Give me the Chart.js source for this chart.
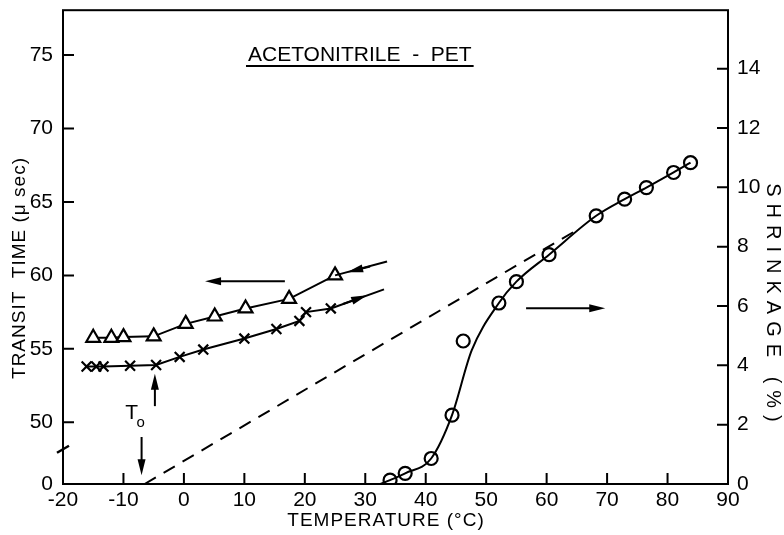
<!DOCTYPE html>
<html>
<head>
<meta charset="utf-8">
<title>Acetonitrile - PET</title>
<script src="https://cdn.jsdelivr.net/npm/chart.js@4.4.1/dist/chart.umd.min.js"></script>
<style>
  html, body { margin: 0; padding: 0; background: #fff; }
  #wrap { width: 784px; height: 535px; position: relative; }
</style>
</head>
<body>
<div id="wrap"><canvas id="chart"></canvas></div>
<script>
// ---- values ----
const xTicks = [-20, -10, 0, 10, 20, 30, 40, 50, 60, 70, 80, 90];
const leftTicks = [50, 55, 60, 65, 70, 75];
const leftBreak = 45.8;          // bottom of the broken left axis, labelled "0"
const rightTicks = [0, 2, 4, 6, 8, 10, 12, 14];

// transit time, cooling run (triangles)
const coolTemp = [-15, -12, -10, -5, 0.3, 5.1, 10.2, 17.4, 25];
const coolTime = [55.75, 55.75, 55.8, 55.85, 56.7, 57.2, 57.75, 58.4, 60.0];
const coolTailTemp = [25, 33.6];
const coolTailTime = [60.0, 60.95];

// transit time, heating run (crosses)
const heatTemp = [-16.1, -14.5, -13.3, -8.9, -4.6, -0.7, 3.2, 10.0, 15.3, 19.1, 20.2, 24.3];
const heatTime = [53.8, 53.8, 53.8, 53.85, 53.9, 54.45, 54.95, 55.7, 56.35, 56.9, 57.5, 57.75];
const heatTailTemp = [24.3, 33.1];
const heatTailTime = [57.75, 59.05];

// shrinkage (circles, right axis)
const shrinkTemp = [34.1, 36.6, 40.9, 44.35, 46.2, 52.1, 55.0, 60.4, 68.2, 72.9, 76.5, 81.0, 83.8];
const shrinkPct = [0.13, 0.36, 0.86, 2.32, 4.82, 6.1, 6.82, 7.73, 9.04, 9.6, 9.99, 10.5, 10.83];
// drawn curve through the shrinkage points
const curveTemp = [32.5, 34.1, 36.6, 40.9, 44.35, 47.6, 52.1, 55.0, 60.4, 68.2, 72.9, 76.5, 81.0, 83.8];
const curvePct = [0, 0.13, 0.36, 0.86, 2.32, 4.5, 6.1, 6.82, 7.73, 9.04, 9.6, 9.99, 10.5, 10.83];
// dashed extrapolation
const dashTemp = [-6.5, 64.5];
const dashPct = [0, 8.5];

// arrows [fromTemp, fromValue, toTemp, toValue]
const arrowsLeft = [
  [16.7, 59.6, 3.5, 59.6],
  [30.8, 60.6, 27.0, 60.22],
  [26.3, 58.05, 30.3, 58.64],
  [-4.8, 51.1, -4.8, 53.3],
  [-7.0, 49.0, -7.0, 46.4]
];
const arrowsRight = [[56.6, 5.92, 69.7, 5.92]];
const toLabel = [-8.65, 50.6];
const titlePos = [10.6, 74.6];

const pts = (xs, ys) => xs.map((x, i) => ({ x: x, y: ys[i] }));
const FONT = "'Liberation Sans', Arial, sans-serif";

function drawArrow(ctx, x1, y1, x2, y2) {
  const a = Math.atan2(y2 - y1, x2 - x1);
  const len = 16, half = 4;
  ctx.beginPath();
  ctx.moveTo(x1, y1);
  ctx.lineTo(x2 - Math.cos(a) * 6, y2 - Math.sin(a) * 6);
  ctx.stroke();
  ctx.beginPath();
  ctx.moveTo(x2, y2);
  ctx.lineTo(x2 - len * Math.cos(a) + half * Math.sin(a), y2 - len * Math.sin(a) - half * Math.cos(a));
  ctx.lineTo(x2 - len * Math.cos(a) - half * Math.sin(a), y2 - len * Math.sin(a) + half * Math.cos(a));
  ctx.closePath();
  ctx.fill();
}

const figureExtras = {
  id: 'figureExtras',
  afterDatasetsDraw(chart) {
    const { ctx, chartArea: a, scales } = chart;
    const sx = scales.x, yl = scales.y, yr = scales.y2;
    ctx.save();
    ctx.strokeStyle = '#000';
    ctx.fillStyle = '#000';
    ctx.lineWidth = 2;
    ctx.strokeRect(a.left, a.top, a.right - a.left, a.bottom - a.top);

    // ticks pointing into the plot
    const t = 11;
    ctx.beginPath();
    xTicks.forEach(v => { const p = sx.getPixelForValue(v); ctx.moveTo(p, a.bottom); ctx.lineTo(p, a.bottom - t); });
    leftTicks.forEach(v => { const p = yl.getPixelForValue(v); ctx.moveTo(a.left, p); ctx.lineTo(a.left + t, p); });
    rightTicks.forEach(v => { const p = yr.getPixelForValue(v); ctx.moveTo(a.right, p); ctx.lineTo(a.right - t, p); });
    ctx.stroke();

    // axis break mark
    const pb = yl.getPixelForValue(48.2);
    ctx.lineWidth = 2.5;
    ctx.beginPath();
    ctx.moveTo(a.left - 6, pb + 4);
    ctx.lineTo(a.left + 6, pb - 3);
    ctx.stroke();

    // arrows
    ctx.lineWidth = 2;
    arrowsLeft.forEach(r => drawArrow(ctx, sx.getPixelForValue(r[0]), yl.getPixelForValue(r[1]),
      sx.getPixelForValue(r[2]), yl.getPixelForValue(r[3])));
    arrowsRight.forEach(r => drawArrow(ctx, sx.getPixelForValue(r[0]), yr.getPixelForValue(r[1]),
      sx.getPixelForValue(r[2]), yr.getPixelForValue(r[3])));

    // T0 label
    const tx = sx.getPixelForValue(toLabel[0]), ty = yl.getPixelForValue(toLabel[1]);
    ctx.textAlign = 'center';
    ctx.textBaseline = 'middle';
    ctx.font = '21px ' + FONT;
    ctx.fillText('T', tx, ty);
    ctx.font = '15px ' + FONT;
    ctx.fillText('o', tx + 9, ty + 9);

    // title, underlined
    const hx = sx.getPixelForValue(titlePos[0]), hy = yl.getPixelForValue(titlePos[1]);
    ctx.font = '21px ' + FONT;
    ctx.textAlign = 'left';
    ctx.textBaseline = 'alphabetic';
    const title = 'ACETONITRILE  -  PET';
    ctx.fillText(title, hx, hy);
    const w = ctx.measureText(title).width;
    ctx.lineWidth = 2;
    ctx.beginPath();
    ctx.moveTo(hx - 2, hy + 5);
    ctx.lineTo(hx + w + 2, hy + 5);
    ctx.stroke();

    // axis titles
    ctx.textAlign = 'center';
    ctx.textBaseline = 'middle';
    ctx.font = '19px ' + FONT;
    ctx.letterSpacing = '1px';
    ctx.fillText('TEMPERATURE (°C)', 386, 521);
    ctx.save();
    ctx.translate(20, 268);
    ctx.rotate(-Math.PI / 2);
    ctx.fillText('TRANSIT  TIME (\u03BC sec)', 0, 0);
    ctx.restore();
    ctx.save();
    ctx.translate(773, 306);
    ctx.rotate(Math.PI / 2);
    ctx.font = '20px ' + FONT;
    ctx.letterSpacing = '7px';
    ctx.fillText('SHRINKAGE (%)', 0, 0);
    ctx.restore();
    ctx.restore();
  }
};

Chart.defaults.font.family = FONT;
Chart.defaults.color = '#000';

const lineBase = { showLine: true, borderColor: '#000', borderWidth: 2, pointRadius: 0, fill: false };
const dotBase = { showLine: false, pointRadius: 1.4, pointStyle: 'circle', pointBackgroundColor: '#000', pointBorderWidth: 0 };
const noGrid = { display: false, drawTicks: false, tickLength: 0 };

new Chart(document.getElementById('chart'), {
  type: 'scatter',
  data: {
    datasets: [
      Object.assign({}, lineBase, { label: 'extrapolation', data: pts(dashTemp, dashPct), yAxisID: 'y2', borderDash: [13, 9] }),
      Object.assign({}, lineBase, { label: 'cool tail', data: pts(coolTailTemp, coolTailTime), yAxisID: 'y' }),
      Object.assign({}, lineBase, { label: 'heat tail', data: pts(heatTailTemp, heatTailTime), yAxisID: 'y' }),
      Object.assign({}, lineBase, { label: 'shrinkage curve', data: pts(curveTemp, curvePct), yAxisID: 'y2', cubicInterpolationMode: 'monotone' }),
      {
        label: 'cooling', data: pts(coolTemp, coolTime), yAxisID: 'y', showLine: true,
        borderColor: '#000', borderWidth: 2, pointStyle: 'triangle', pointRadius: 8,
        pointBackgroundColor: '#fff', pointBorderColor: '#000', pointBorderWidth: 2.2
      },
      {
        label: 'heating', data: pts(heatTemp, heatTime), yAxisID: 'y', showLine: true,
        borderColor: '#000', borderWidth: 2, pointStyle: 'crossRot', pointRadius: 7,
        pointBorderColor: '#000', pointBorderWidth: 2.2
      },
      {
        label: 'shrinkage', data: pts(shrinkTemp, shrinkPct), yAxisID: 'y2', showLine: false,
        pointStyle: 'circle', pointRadius: 6.5, pointBackgroundColor: '#fff',
        pointBorderColor: '#000', pointBorderWidth: 2.2
      },
      Object.assign({}, dotBase, { label: 'cool dots', data: pts(coolTemp, coolTime.map(v => v - 0.05)), yAxisID: 'y' }),
      Object.assign({}, dotBase, { label: 'shrink dots', data: pts(shrinkTemp, shrinkPct), yAxisID: 'y2' })
    ]
  },
  options: {
    responsive: true,
    maintainAspectRatio: false,
    animation: false,
    layout: { padding: { top: 7, left: 0, right: 0, bottom: 0 } },
    plugins: { legend: { display: false }, tooltip: { enabled: false } },
    scales: {
      x: {
        type: 'linear', min: -20, max: 90,
        afterBuildTicks: s => { s.ticks = xTicks.map(v => ({ value: v })); },
        afterFit: s => { s.height = 51; s.paddingLeft = 0; s.paddingRight = 0; },
        grid: noGrid, border: { display: false },
        ticks: { font: { size: 21 }, padding: 4, maxRotation: 0, autoSkip: false }
      },
      y: {
        type: 'linear', position: 'left', min: leftBreak, max: 78.05,
        afterBuildTicks: s => { s.ticks = [leftBreak].concat(leftTicks).map(v => ({ value: v })); },
        afterFit: s => { s.width = 63; s.paddingTop = 0; s.paddingBottom = 0; },
        grid: noGrid, border: { display: false },
        ticks: { font: { size: 21 }, padding: 10, callback: v => (v === leftBreak ? '0' : v) }
      },
      y2: {
        type: 'linear', position: 'right', min: 0, max: 15.97,
        afterBuildTicks: s => { s.ticks = rightTicks.map(v => ({ value: v })); },
        afterFit: s => { s.width = 56; s.paddingTop = 0; s.paddingBottom = 0; },
        grid: noGrid, border: { display: false },
        ticks: { font: { size: 21 }, padding: 9 }
      }
    }
  },
  plugins: [figureExtras]
});
</script>
</body>
</html>
